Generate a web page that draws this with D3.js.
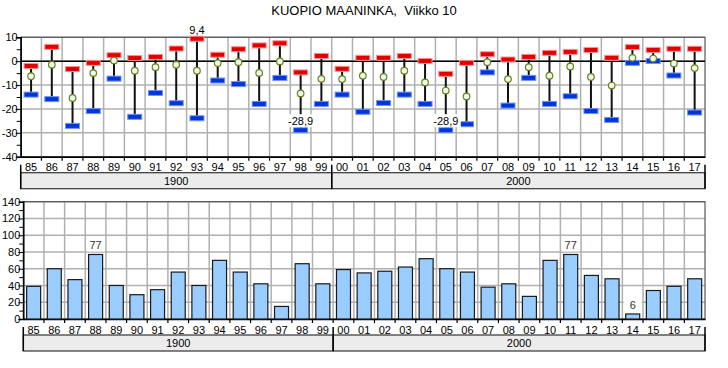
<!DOCTYPE html>
<html><head><meta charset="utf-8">
<script src="https://cdn.jsdelivr.net/npm/d3@7"></script>
<style>body{margin:0;background:#fff}svg{display:block;font-family:"Liberation Sans",Arial,sans-serif}</style>
</head><body>
<svg id="c" width="728" height="368"></svg>
<script>
const years = ["85","86","87","88","89","90","91","92","93","94","95","96","97","98","99","00","01","02","03","04","05","06","07","08","09","10","11","12","13","14","15","16","17"];
const centuries = [{label:"1900", from:0, to:15},{label:"2000", from:15, to:33}];
const tMax = [-2.0,6.0,-3.3,-0.7,2.5,1.3,1.8,5.3,9.4,2.7,5.0,6.6,7.5,-4.7,2.2,-3.2,1.4,1.4,2.2,0.1,-5.3,-0.7,2.9,0.7,1.8,3.5,3.9,4.7,1.4,5.9,4.7,5.2,5.2];
const tMean = [-6.3,-1.5,-15.4,-5.0,0.3,-4.0,-2.5,-1.5,-4.0,-0.8,-0.4,-4.9,-0.1,-13.5,-7.4,-7.5,-6.1,-6.6,-4.0,-8.9,-12.3,-14.8,-0.4,-7.5,-2.5,-6.1,-2.2,-6.6,-10.2,1.4,1.1,-1.0,-2.9];
const tMin = [-14.0,-15.9,-27.1,-20.9,-7.3,-23.3,-13.3,-17.6,-23.9,-8.1,-9.6,-17.9,-7.0,-28.9,-17.9,-14.0,-21.2,-17.5,-14.0,-17.9,-28.9,-26.4,-4.7,-18.6,-7.0,-17.9,-14.7,-20.9,-24.6,-0.7,0.1,-6.0,-21.5];
const precip = [39,60,47,77,40,29,35,56,40,70,56,42,15,66,42,59,55,57,62,72,60,56,38,42,27,70,77,52,48,6,34,39,48];
const tTicks = [10,0,-10,-20,-30,-40];
const pTicks = [0,20,40,60,80,100,120,140];

const svg = d3.select("#c");
const fmt = v => String(v).replace(".", ",");

svg.append("text").attr("x",364).attr("y",15).attr("text-anchor","middle")
  .attr("font-size",13).attr("fill","#000").style("white-space","pre")
  .text("KUOPIO MAANINKA,  Viikko 10");

function panel(x0, x1, yTop, yBot, yDomain, ticks, minorStep) {
  const x = d3.scaleBand().domain(years).range([x0, x1]).padding(0);
  const y = d3.scaleLinear().domain(yDomain).range([yBot, yTop]);
  const g = svg.append("g");
  g.append("g").selectAll("line").data(ticks).join("line")
    .attr("x1",x0).attr("x2",x1).attr("y1",d=>y(d)).attr("y2",d=>y(d))
    .attr("stroke","#b0b0b0").attr("stroke-width",1.5);
  g.append("g").selectAll("line").data(years.slice(1)).join("line")
    .attr("x1",d=>x(d)).attr("x2",d=>x(d)).attr("y1",yTop).attr("y2",yBot)
    .attr("stroke","#b0b0b0").attr("stroke-width",1.5);
  g.append("rect").attr("x",x0).attr("y",yTop).attr("width",x1-x0).attr("height",yBot-yTop)
    .attr("fill","none").attr("stroke","#555").attr("stroke-width",1.2);
  const minor = d3.range(yDomain[0], yDomain[1]+0.001, minorStep);
  const ya = d3.axisLeft(y).tickValues(minor).tickSize(4).tickFormat(d => ticks.includes(d) ? d : "");
  const ag = g.append("g").attr("transform",`translate(${x0},0)`).call(ya);
  ag.select(".domain").attr("stroke","#000").attr("stroke-width",1.5);
  ag.selectAll(".tick line").attr("stroke","#000");
  ag.selectAll(".tick text").attr("font-size",11).attr("fill","#000").attr("x",-3).attr("font-family","Liberation Sans, Arial, sans-serif");
  ag.selectAll(".tick").filter(d=>ticks.includes(d)).select("line").attr("x2",-5);
  const xa = d3.axisBottom(x).tickSize(0).tickPadding(7);
  const bg = g.append("g").attr("transform",`translate(0,${yBot})`).call(xa);
  bg.select(".domain").attr("stroke","#000").attr("stroke-width",1.5);
  bg.selectAll(".tick text").attr("font-size",11).attr("fill","#000").attr("font-family","Liberation Sans, Arial, sans-serif");
  g.append("g").selectAll("line").data(years.slice(1)).join("line")
    .attr("x1",d=>x(d)).attr("x2",d=>x(d)).attr("y1",yBot).attr("y2",yBot+4)
    .attr("stroke","#000").attr("stroke-width",1.2);
  const bt = yBot + 16, bb = yBot + 32;
  centuries.forEach((c,i) => {
    const cx0 = x(years[c.from]), cx1 = c.to >= years.length ? x1 : x(years[c.to]);
    g.append("rect").attr("x",cx0).attr("y",bt).attr("width",cx1-cx0).attr("height",bb-bt)
      .attr("fill","#ececec").attr("stroke","#333").attr("stroke-width",1.2);
    g.append("text").attr("x",(cx0+cx1)/2).attr("y",bt+12).attr("text-anchor","middle")
      .attr("font-size",11).attr("fill","#000").text(c.label);
  });
  [x0, x(years[15]), x1].forEach(v => {
    g.append("line").attr("x1",v).attr("x2",v).attr("y1",yBot+8).attr("y2",bb)
      .attr("stroke","#000").attr("stroke-width",1.5);
  });
  return {x, y, g};
}

const T = panel(20.7, 705, 37.3, 156.7, [-40, 10], tTicks, 5);
T.g.append("line").attr("x1",20.7).attr("x2",705).attr("y1",T.y(0)).attr("y2",T.y(0))
  .attr("stroke","#000").attr("stroke-width",1.5);
const cx = d => T.x(years[d]) + T.x.bandwidth()/2;
const idx = d3.range(years.length);
T.g.append("g").selectAll("line").data(idx).join("line")
  .attr("x1",cx).attr("x2",cx).attr("y1",i=>T.y(tMax[i])).attr("y2",i=>T.y(tMin[i]))
  .attr("stroke","#111").attr("stroke-width",2);
T.g.append("g").selectAll("rect").data(idx).join("rect")
  .attr("x",i=>cx(i)-7).attr("y",i=>T.y(tMax[i])-2.5).attr("width",14).attr("height",5)
  .attr("fill","#e00000").attr("stroke","#ff9090").attr("stroke-width",1);
T.g.append("g").selectAll("rect").data(idx).join("rect")
  .attr("x",i=>cx(i)-7).attr("y",i=>T.y(tMin[i])-2.5).attr("width",14).attr("height",5)
  .attr("fill","#0036d8").attr("stroke","#7090ff").attr("stroke-width",1);
T.g.append("g").selectAll("circle").data(idx).join("circle")
  .attr("cx",cx).attr("cy",i=>T.y(tMean[i])).attr("r",3.3)
  .attr("fill","#e8fbe8").attr("stroke","#6e7f1e").attr("stroke-width",1.2);
const maxV = d3.max(tMax), minV = d3.min(tMin);
idx.filter(i=>tMax[i]===maxV).forEach(i=>{
  T.g.append("text").attr("x",cx(i)).attr("y",T.y(tMax[i])-5).attr("text-anchor","middle")
    .attr("font-size",11).attr("fill","#000").text(fmt(tMax[i]));
});
idx.filter(i=>tMin[i]===minV).forEach(i=>{
  const yy = T.y(tMin[i]) - 5;
  T.g.append("rect").attr("x",cx(i)-15).attr("y",yy-11).attr("width",30).attr("height",13).attr("fill","#fff");
  T.g.append("text").attr("x",cx(i)).attr("y",yy).attr("text-anchor","middle")
    .attr("font-size",11).attr("fill","#000").text(fmt(tMin[i]));
});

const B = panel(23.3, 705, 201.7, 319, [0, 140], pTicks, 10);
B.g.append("g").selectAll("rect").data(idx).join("rect")
  .attr("x",i=>B.x(years[i]) + B.x.bandwidth()/2 - 7).attr("width",14)
  .attr("y",i=>B.y(precip[i])).attr("height",i=>B.y(0)-B.y(precip[i]))
  .attr("fill","#99ccff").attr("stroke","#1a1a1a").attr("stroke-width",1.2);
const pMax = d3.max(precip), pMin = d3.min(precip);
idx.filter(i=>precip[i]===pMax || precip[i]===pMin).forEach(i=>{
  const bx = B.x(years[i]) + B.x.bandwidth()/2;
  B.g.append("rect").attr("x",bx-9).attr("y",B.y(precip[i])-15).attr("width",18).attr("height",12).attr("fill","#fff");
  B.g.append("text").attr("x",bx).attr("y",B.y(precip[i])-5).attr("text-anchor","middle")
    .attr("font-size",11).attr("fill","#333").text(precip[i]);
});
</script>
</body></html>
